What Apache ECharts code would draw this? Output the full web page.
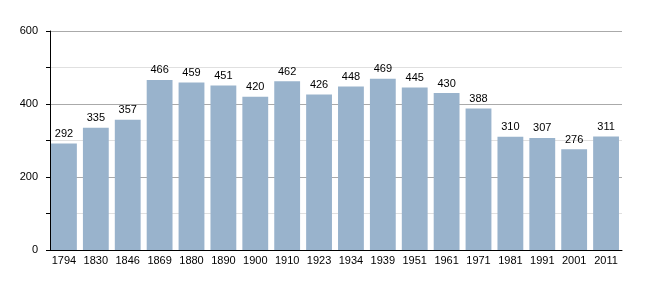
<!DOCTYPE html>
<html><head><meta charset="utf-8">
<script src="https://cdn.jsdelivr.net/npm/echarts@6/dist/echarts.min.js"></script>
<style>html,body{margin:0;padding:0;background:#fff}#c{width:650px;height:300px}</style>
</head><body><div id="c"></div>
<script>
const years = ['1794','1830','1846','1869','1880','1890','1900','1910','1923','1934','1939','1951','1961','1971','1981','1991','2001','2011'];
const population = [292,335,357,466,459,451,420,462,426,448,469,445,430,388,310,307,276,311];
const yTicks = [0,200,400,600];

const chart = echarts.init(document.getElementById('c'), null, {renderer:'canvas'});
chart.setOption({
  animation:false,
  backgroundColor:'#fff',
  textStyle:{fontFamily:'Liberation Sans, Arial, sans-serif'},
  grid:{left:48,right:28,top:31,bottom:50},
  xAxis:{type:'category',data:years,
    axisLine:{lineStyle:{color:'#000',width:1}},
    axisTick:{show:false},
    axisLabel:{color:'#000',fontSize:11,margin:5,interval:0}},
  yAxis:{type:'value',min:yTicks[0],max:yTicks[yTicks.length-1],interval:200,offset:-2,
    axisLine:{show:true,lineStyle:{color:'#000'}},
    axisTick:{show:true,length:4,lineStyle:{color:'#000'}},
    minorTick:{show:true,splitNumber:2,length:4,lineStyle:{color:'#000'}},
    splitLine:{lineStyle:{color:'#aaaaaa'}},
    minorSplitLine:{show:true,lineStyle:{color:'#e0e0e0'}},
    axisLabel:{color:'#000',fontSize:11,margin:12}},
  series:[{type:'bar',data:population,barCategoryGap:'19%',
    itemStyle:{color:'#99b3cc'},
    label:{show:true,position:'top',color:'#000',fontSize:11,distance:4}}]
});
</script></body></html>
